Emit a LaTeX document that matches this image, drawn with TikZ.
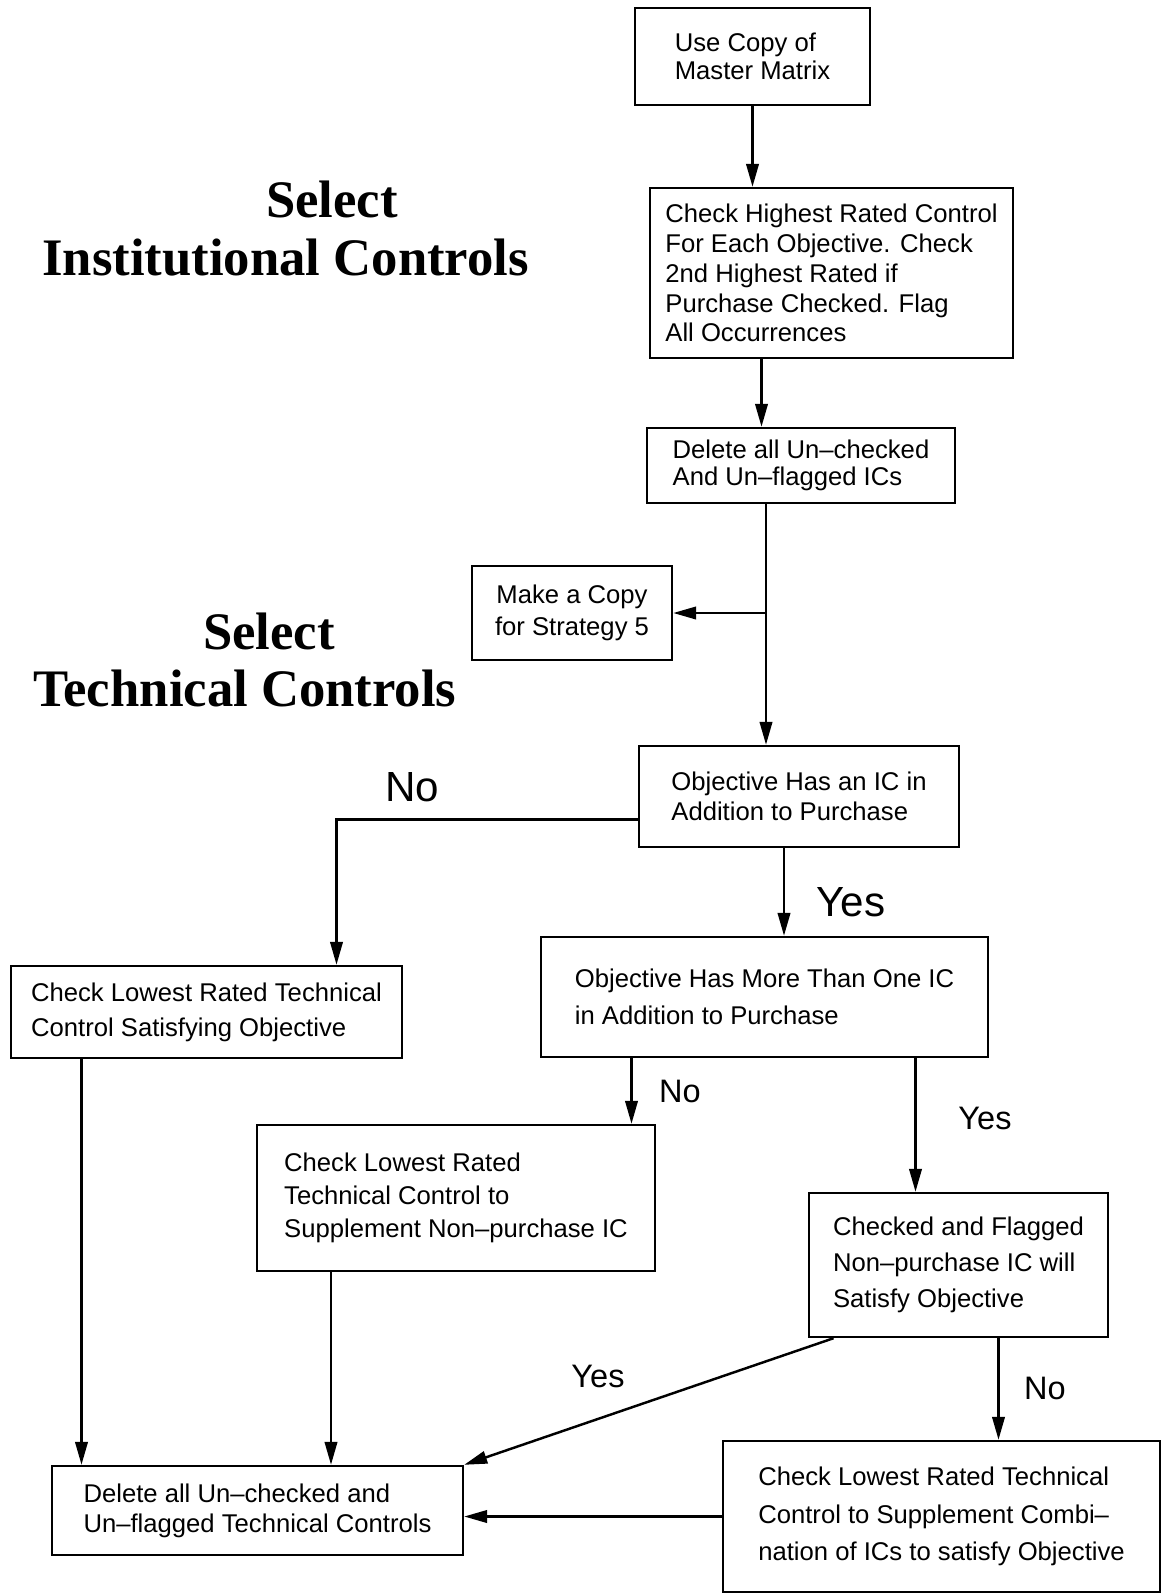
\documentclass[tikz,border=0pt]{standalone}
\usepackage{fontspec}
\setmainfont{Liberation Sans}
\newfontfamily\headfont{Liberation Serif}
\usetikzlibrary{arrows.meta,calc,positioning}
\tikzset{
chart/.style={>={Triangle[length=0.46cm,width=0.25cm]},line width=1.4pt,
    x=0.02cm,y=-0.02cm},
task/.style={draw,line width=1.4pt,align=left,inner sep=0pt,
    font=\fontsize{14.6}{#1}\selectfont},
task/.default={17},
heading/.style={anchor=base west,inner sep=0pt,
    font=\headfont\bfseries\fontsize{30}{33}\selectfont},
answer/.style={inner sep=0pt,font=\fontsize{18.5}{20}\selectfont},
big answer/.style={inner sep=0pt,font=\fontsize{24}{26}\selectfont},
}

\begin{document}
\begin{tikzpicture}[chart]
    \useasboundingbox (0,0) rectangle (1162,1596);

    \node[heading] (sel1) at (265,217) {Select};
    \node[heading] (inst) at (41,275) {Institutional Controls};
    \node[heading] (sel2) at (202,649) {Select};
    \node[heading] (tech) at (32,706) {Technical Controls};

    \node[task=16,minimum width=4.70cm,minimum height=1.94cm] (use) at (752.5,56.5)
        {Use Copy of\\Master Matrix};
    \node[task=17,minimum width=7.26cm,minimum height=3.40cm] (highest) at (831.5,273)
        {Check Highest Rated Control\\For Each Objective. Check\\2nd Highest Rated if\\Purchase Checked. Flag\\All Occurrences};
    \node[task=15.4,minimum width=6.16cm,minimum height=1.50cm] (delic) at (801,465.5)
        {Delete all Un--checked\\And Un--flagged ICs};
    \node[task=18,minimum width=4.00cm,minimum height=1.88cm,align=center] (copy) at (572,613)
        {Make a Copy\\for Strategy 5};
    \node[task=17,minimum width=6.40cm,minimum height=2.02cm] (hasic) at (799,796.5)
        {Objective Has an IC in\\Addition to Purchase};
    \node[task=20,minimum width=7.82cm,minimum height=1.84cm] (lowest) at (206.5,1012)
        {Check Lowest Rated Technical\\Control Satisfying Objective};
    \node[task=21,minimum width=8.94cm,minimum height=2.40cm] (more) at (764.5,997)
        {Objective Has More Than One IC\\in Addition to Purchase};
    \node[task=18.8,minimum width=7.96cm,minimum height=2.92cm] (supp) at (456,1198)
        {Check Lowest Rated\\Technical Control to\\Supplement Non--purchase IC};
    \node[task=20.5,minimum width=5.98cm,minimum height=2.88cm] (flagged) at (958.5,1265)
        {Checked and Flagged\\Non--purchase IC will\\Satisfy Objective};
    \node[task=21.3,minimum width=8.74cm,minimum height=3.02cm] (comb) at (941.5,1516.5)
        {Check Lowest Rated Technical\\Control to Supplement Combi--\\nation of ICs to satisfy Objective};
    \node[task=17,minimum width=8.22cm,minimum height=1.78cm] (deltc) at (257.5,1510.5)
        {Delete all Un--checked and\\Un--flagged Technical Controls};

    \node[big answer] (no1) at (412,787) {No};
    \node[big answer] (yes1) at (851,902) {Yes};
    \node[answer] (no2) at (680,1091) {No};
    \node[answer] (yes2) at (985,1118) {Yes};
    \node[answer] (yes3) at (598,1376) {Yes};
    \node[answer] (no3) at (1045,1388) {No};

    \draw[->] (use) -- (use |- highest.north);
    \draw[->] ($(highest.south)+(-70,0)$) coordinate (t) -- (t |- delic.north);
    \draw[->] ($(delic.south)+(-35,0)$) coordinate (trunk) -- (trunk |- hasic.north);
    \draw[->] (trunk |- copy.east) -- (copy.east);
    \draw[->] ($(hasic.west)+(0,23)$) -| ($(lowest.north)+(130,0)$);
    \draw[->] ($(hasic.south)+(-15,0)$) coordinate (t) -- (t |- more.north);
    \draw[->] ($(more.south)+(-133,0)$) coordinate (t) -- (t |- supp.north);
    \draw[->] ($(more.south)+(151,0)$) coordinate (t) -- (t |- flagged.north);
    \draw[->] ($(lowest.south)+(-125,0)$) coordinate (t) -- (t |- deltc.north);
    \draw[->] ($(supp.south)+(-125,0)$) coordinate (t) -- (t |- deltc.north);
    \draw[->] ($(flagged.south)+(-125,0)$) -- (deltc.north east);
    \draw[->] ($(flagged.south)+(40,0)$) coordinate (t) -- (t |- comb.north);
    \draw[->] (comb.west) -- (comb.west -| deltc.east);
\end{tikzpicture}
\end{document}
